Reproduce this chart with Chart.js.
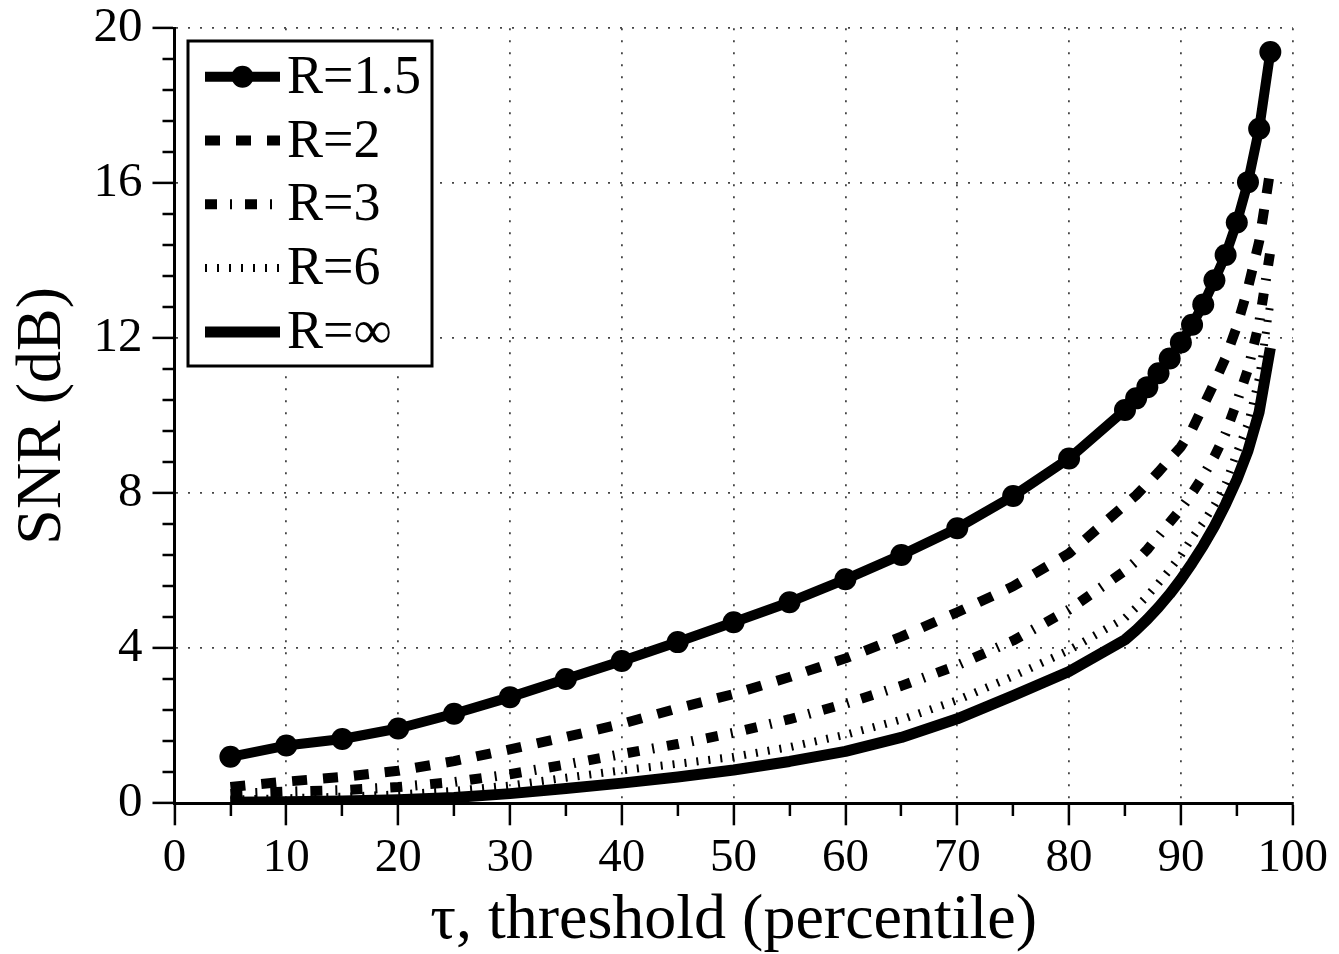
<!DOCTYPE html>
<html>
<head>
<meta charset="utf-8">
<script src="https://cdn.jsdelivr.net/npm/chart.js@4/dist/chart.umd.min.js"></script>
<style>
  html, body { margin: 0; padding: 0; background: #fff; }
  #wrap { width: 1339px; height: 954px; }
</style>
</head>
<body>
<div id="wrap"><canvas id="snr" width="1339" height="954"></canvas></div>
<script>
// Threshold percentiles at which SNR was evaluated
const thresholds = [5, 10, 15, 20, 25, 30, 35, 40, 45, 50, 55, 60, 65, 70, 75, 80,
                    85, 86, 87, 88, 89, 90, 91, 92, 93, 94, 95, 96, 97, 98];

// SNR (dB) for each ratio R
const snrR15  = [1.20, 1.49, 1.66, 1.93, 2.31, 2.74, 3.21, 3.67, 4.16, 4.67, 5.19, 5.78, 6.41, 7.10, 7.93, 8.90,
                 10.15, 10.45, 10.74, 11.10, 11.48, 11.89, 12.35, 12.87, 13.50, 14.15, 14.99, 16.03, 17.41, 19.39];
const snrR2   = [0.42, 0.56, 0.68, 0.84, 1.09, 1.39, 1.71, 2.05, 2.45, 2.82, 3.26, 3.74, 4.30, 4.93, 5.60, 6.45,
                 7.70, 7.95, 8.25, 8.55, 8.88, 9.20, 9.65, 10.25, 10.85, 11.50, 12.30, 13.30, 14.50, 16.35];
const snrR3   = [0.24, 0.30, 0.34, 0.42, 0.55, 0.75, 1.00, 1.27, 1.53, 1.82, 2.17, 2.57, 3.03, 3.56, 4.20, 5.00,
                 6.00, 6.25, 6.55, 6.90, 7.25, 7.60, 8.00, 8.45, 8.95, 9.55, 10.35, 11.20, 12.40, 14.25];
const snrR6   = [0.10, 0.13, 0.17, 0.23, 0.32, 0.46, 0.66, 0.85, 1.02, 1.20, 1.45, 1.77, 2.16, 2.66, 3.28, 3.95,
                 4.78, 5.05, 5.35, 5.68, 6.03, 6.40, 6.85, 7.25, 7.70, 8.25, 9.05, 9.80, 11.00, 12.90];
const snrRinf = [0.03, 0.04, 0.06, 0.09, 0.15, 0.25, 0.38, 0.52, 0.68, 0.86, 1.08, 1.34, 1.70, 2.18, 2.78, 3.40,
                 4.22, 4.47, 4.75, 5.06, 5.40, 5.78, 6.20, 6.65, 7.15, 7.72, 8.35, 9.10, 10.10, 11.75];

const seriesLabels = ['R=1.5', 'R=2', 'R=3', 'R=6', 'R=\u221E'];

// Axis tick values
const xMajorStep = 10, xMinorStep = 5, xMin = 0, xMax = 100;
const yMajorStep = 4, yMinorStep = 0.8, yMin = 0, yMax = 20;

const SERIF = '"Liberation Serif", "Times New Roman", serif';

const toPoints = (ys) => ys.map((y, i) => ({ x: thresholds[i], y }));
const isMultiple = (v, step) => Math.abs(v / step - Math.round(v / step)) < 1e-6;

const datasets = [
  { label: seriesLabels[0], data: toPoints(snrR15), borderWidth: 10, borderDash: [],
    pointRadius: 11, pointBackgroundColor: '#000', pointBorderWidth: 0 },
  { label: seriesLabels[1], data: toPoints(snrR2), borderWidth: 10, borderDash: [15, 16], pointRadius: 0 },
  { label: seriesLabels[2], data: toPoints(snrR3), borderWidth: 10, borderDash: [12, 13, 2, 13], pointRadius: 0 },
  { label: seriesLabels[3], data: toPoints(snrR6), borderWidth: 8, borderDash: [2, 10], pointRadius: 0 },
  { label: seriesLabels[4], data: toPoints(snrRinf), borderWidth: 11, borderDash: [], pointRadius: 0 }
].map(d => Object.assign({ borderColor: '#000', backgroundColor: '#000', fill: false,
                           tension: 0, borderCapStyle: 'butt', borderJoinStyle: 'round' }, d));

// Boxed legend in the upper-left corner of the plot area
const boxedLegend = {
  id: 'boxedLegend',
  afterDraw(chart) {
    const { ctx } = chart;
    const box = { x: 188, y: 41, w: 244, h: 325 };
    const rowTop = 76.7, rowGap = 63.8, sx0 = 205, sx1 = 280, tx = 287;
    ctx.save();
    ctx.fillStyle = '#fff';
    ctx.fillRect(box.x, box.y, box.w, box.h);
    ctx.lineWidth = 3;
    ctx.strokeStyle = '#000';
    ctx.strokeRect(box.x, box.y, box.w, box.h);
    chart.data.datasets.forEach((ds, i) => {
      const y = rowTop + i * rowGap;
      ctx.beginPath();
      ctx.setLineDash(ds.borderDash || []);
      ctx.lineDashOffset = 0;
      ctx.lineCap = 'butt';
      ctx.lineWidth = ds.borderWidth;
      ctx.strokeStyle = ds.borderColor;
      ctx.moveTo(sx0, y);
      ctx.lineTo(sx1, y);
      ctx.stroke();
      ctx.setLineDash([]);
      if (ds.pointRadius > 0) {
        ctx.beginPath();
        ctx.fillStyle = ds.pointBackgroundColor;
        ctx.arc((sx0 + sx1) / 2, y, ds.pointRadius, 0, Math.PI * 2);
        ctx.fill();
      }
      ctx.fillStyle = '#000';
      ctx.font = '54px ' + SERIF;
      ctx.textAlign = 'left';
      ctx.textBaseline = 'middle';
      ctx.fillText(ds.label, tx, y + 2);
    });
    ctx.restore();
  }
};

new Chart(document.getElementById('snr'), {
  type: 'line',
  data: { datasets },
  plugins: [boxedLegend],
  options: {
    responsive: false,
    animation: false,
    events: [],
    layout: { padding: { top: 28.3, right: 46.3, left: 0, bottom: 0 } },
    plugins: { legend: { display: false }, tooltip: { enabled: false } },
    scales: {
      x: {
        type: 'linear',
        min: xMin, max: xMax,
        afterFit(scale) { scale.height = 150.7; },
        border: { display: true, color: '#000', width: 3, dash: [2, 10] },
        grid: {
          color: (c) => (c.tick && isMultiple(c.tick.value, xMajorStep)) ? '#444' : 'rgba(0,0,0,0)',
          lineWidth: 1.8,
          tickColor: '#000',
          tickWidth: 2.5,
          tickLength: 22,
          // minor ticks: half-length marks hanging from the axis line
          tickBorderDash: (c) => (c.tick && isMultiple(c.tick.value, xMajorStep)) ? [] : [11, 60]
        },
        ticks: {
          stepSize: xMinorStep,
          autoSkip: false,
          maxRotation: 0,
          padding: 10,
          color: '#000',
          font: { family: SERIF, size: 47, lineHeight: 1 },
          callback: (v) => isMultiple(v, xMajorStep) ? String(v) : ''
        },
        title: {
          display: true,
          text: '\u03C4, threshold (percentile)',
          color: '#000',
          font: { family: SERIF, size: 64, lineHeight: 1 },
          padding: { top: 0, bottom: 1 }
        }
      },
      y: {
        type: 'linear',
        min: yMin, max: yMax,
        afterFit(scale) { scale.width = 174.5; },
        border: { display: true, color: '#000', width: 3, dash: [2, 10] },
        grid: {
          color: (c) => (c.tick && isMultiple(c.tick.value, yMajorStep)) ? '#444' : 'rgba(0,0,0,0)',
          lineWidth: 1.8,
          tickColor: '#000',
          tickWidth: 2.5,
          tickLength: 22,
          // tick strokes run from the outer end toward the axis, so skip the outer half
          tickBorderDash: (c) => (c.tick && isMultiple(c.tick.value, yMajorStep)) ? [] : [0, 10, 12, 100]
        },
        ticks: {
          stepSize: yMinorStep,
          autoSkip: false,
          padding: 10,
          color: '#000',
          // compact line box so the top label does not push the plot area down
          font: { family: SERIF, size: 49, lineHeight: 0.5 },
          callback: (v) => isMultiple(v, yMajorStep) ? String(Math.round(v)) : ''
        },
        title: {
          display: true,
          text: 'SNR (dB)',
          color: '#000',
          font: { family: SERIF, size: 64, lineHeight: 1 },
          padding: { top: 11, bottom: 0 }
        }
      }
    }
  }
});
</script>
</body>
</html>
